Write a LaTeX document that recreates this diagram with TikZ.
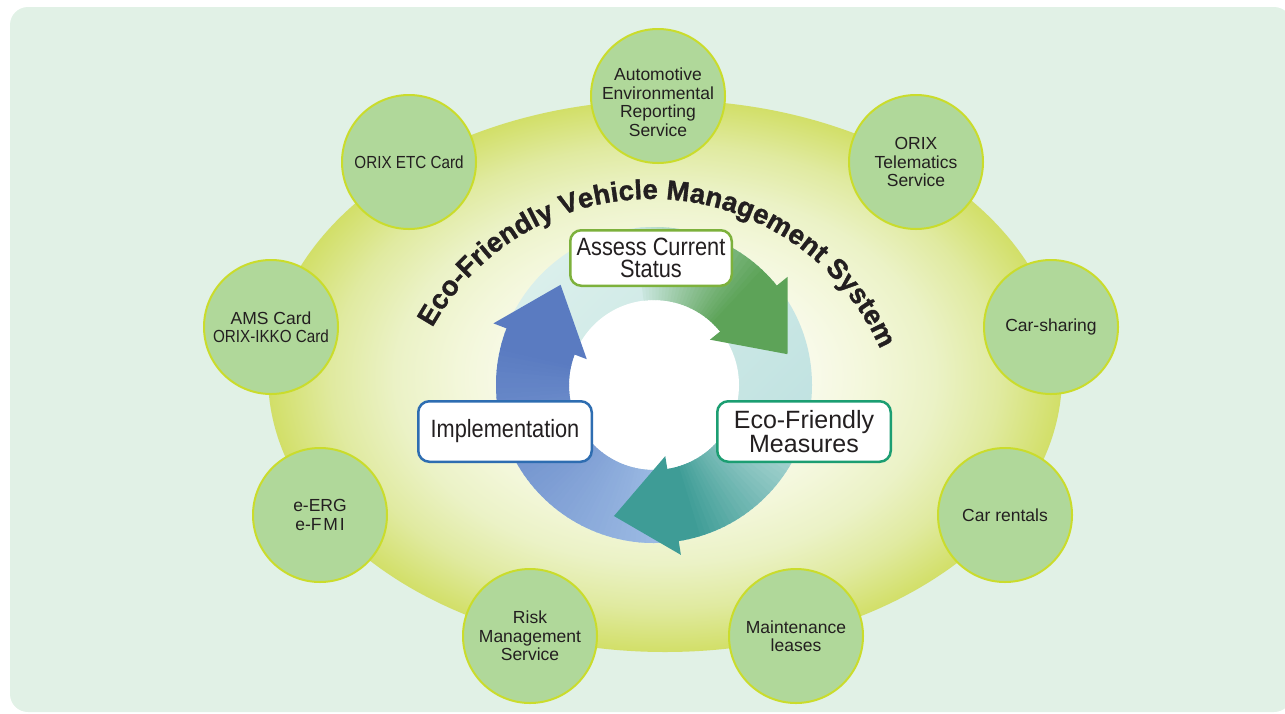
\documentclass[tikz,border=0pt]{standalone}
\usepackage{fontspec}
\setmainfont{Liberation Sans}
\newfontfamily\narrowfont[FakeStretch=0.87]{Liberation Sans}
\newfontfamily\titlefont[UprightFont={* Bold}, FakeBold=1.2]{Liberation Sans}
\usetikzlibrary{calc,decorations.text}
\definecolor{bgcol}{HTML}{E1F1E6}
\definecolor{circfill}{HTML}{B0D89A}
\definecolor{circedge}{HTML}{CADC2C}
\definecolor{txt}{HTML}{231F20}
\definecolor{ringL}{HTML}{DAEFEB}
\definecolor{ringD}{HTML}{BEE1E0}
\definecolor{greenA}{HTML}{5DA358}
\definecolor{greenL}{HTML}{C8E5DD}
\definecolor{blueA}{HTML}{5A7BC1}
\definecolor{blueL}{HTML}{9DBCE4}
\definecolor{tealA}{HTML}{3E9C96}
\definecolor{tealL}{HTML}{C0E2DF}
\definecolor{boxgreen}{HTML}{7DB13C}
\definecolor{boxblue}{HTML}{2E6DB1}
\definecolor{boxteal}{HTML}{1C9E72}
\definecolor{ellcA}{HTML}{FAFBEF}
\definecolor{ellcB}{HTML}{F3F7DA}
\definecolor{ellcC}{HTML}{EBF2C6}
\definecolor{ellcD}{HTML}{E0EAA0}
\definecolor{ellcE}{HTML}{D2DF68}
\pgfdeclareradialshading{ellshade}{\pgfpoint{0bp}{0bp}}{color(0bp)=(ellcA); color(8bp)=(ellcA); color(13bp)=(ellcB); color(17bp)=(ellcC); color(21bp)=(ellcD); color(25bp)=(ellcE); color(50bp)=(ellcE)}
\tikzset{
  circ/.style={circle, fill=circfill, draw=circedge, line width=2pt, minimum size=134pt, inner sep=0pt, align=center, text=txt, font=\fontsize{17.5}{18.5}\selectfont},
  circtext/.style={align=center, inner sep=0pt, text=txt, font=\fontsize{17.5}{18.5}\selectfont},
  stepbox/.style={rectangle, rounded corners=11pt, fill=white, line width=2.5pt, align=center, inner sep=0pt, text=txt, minimum width=173.5pt, minimum height=60.5pt},
}
\begin{document}
\begin{tikzpicture}[x=1pt,y=1pt]
\useasboundingbox (0,0) rectangle (1285,-713);
% background panel
\fill[bgcol, rounded corners=18pt] (10,-7) rectangle (1292,-712);
% big ellipse
\shade[shading=ellshade] (665,-376) ellipse [x radius=397, y radius=276];
% satellite circles
\node[circ] (c1) at (658,-96) {};
\node[circtext] (c1t) at (658,-102) {Automotive\\Environmental\\Reporting\\Service};
\node[circ] (c2) at (916,-162) {ORIX\\Telematics\\Service};
\node[circ] (c3) at (1051,-327) {Car-sharing};
\node[circ] (c4) at (1005,-515) {Car rentals};
\node[circ] (c5) at (796,-636) {Maintenance\\leases};
\node[circ] (c6) at (530,-636) {Risk\\Management\\Service};
\node[circ] (c7) at (320,-515) {e-ERG\\e-F\kern1.8pt M\kern1.8pt I};
\node[circ] (c8) at (271,-327) {AMS Card\\{\narrowfont ORIX-IKKO Card}};
\node[circ] (c9) at (409,-162) {\narrowfont ORIX ETC Card};
% ring
\coordinate (C) at (654,-385);
\shade[bottom color=ringD, top color=ringL, shading angle=45] (C) circle [radius=158];
\fill[white] (C) circle [radius=85];
% blue arrow body
\foreach \a in {275,273,...,161} {
  \pgfmathtruncatemacro\t{min(100,max(0,(275-\a)*100/108))}
  \pgfmathsetmacro\b{\a-2.6}
  \colorlet{tmpc}{blueA!\t!blueL}
  \fill[tmpc] ($(C)+(\a:85)$) arc[start angle=\a, end angle=\b, radius=85] -- ($(C)+(\b:158)$) arc[start angle=\b, end angle=\a, radius=158] -- cycle;
}
\fill[blueA] ($(C)+(159:72)$) -- ($(C)+(159:172)$) -- ($(C)+(133:137)$) -- cycle;
% green arrow body
\foreach \a in {97,95,...,41} {
  \pgfmathtruncatemacro\t{min(100,max(0,(97-\a)*100/50))}
  \pgfmathsetmacro\b{\a-2.6}
  \colorlet{tmpc}{greenA!\t!greenL}
  \fill[tmpc] ($(C)+(\a:85)$) arc[start angle=\a, end angle=\b, radius=85] -- ($(C)+(\b:158)$) arc[start angle=\b, end angle=\a, radius=158] -- cycle;
}
\fill[greenA] ($(C)+(39:72)$) -- ($(C)+(39:172)$) -- ($(C)+(13:137)$) -- cycle;
% teal arrow body
\foreach \a in {345,343,...,281} {
  \pgfmathtruncatemacro\t{min(100,max(0,(345-\a)*100/58))}
  \pgfmathsetmacro\b{\a-2.6}
  \colorlet{tmpc}{tealA!\t!tealL}
  \fill[tmpc] ($(C)+(\a:85)$) arc[start angle=\a, end angle=\b, radius=85] -- ($(C)+(\b:158)$) arc[start angle=\b, end angle=\a, radius=158] -- cycle;
}
\fill[tealA] ($(C)+(279:72)$) -- ($(C)+(279:172)$) -- ($(C)+(253:137)$) -- cycle;
% step boxes
\node[stepbox, draw=boxgreen, minimum width=161.5pt, minimum height=55.5pt, font=\narrowfont\fontsize{25}{22.7}\selectfont] (assess) at (651,-258) {Assess Current\\Status};
\node[stepbox, draw=boxblue, font=\narrowfont\fontsize{25}{23.5}\selectfont] (impl) at (505,-431.5) {Implementation};
\node[stepbox, draw=boxteal, font=\fontsize{25}{24}\selectfont] (eco) at (804,-431.5) {Eco-Friendly\\Measures};
% curved title
\coordinate (T) at (651,-449);
\path[decorate, decoration={text along path, text align=fit to path, text={|\color{txt}\titlefont\fontsize{27.5}{27.5}\selectfont|Eco-Friendly Vehicle Management System}}] ($(T)+(151:250)$) arc[start angle=151, end angle=23.5, radius=250];
\end{tikzpicture}
\end{document}
